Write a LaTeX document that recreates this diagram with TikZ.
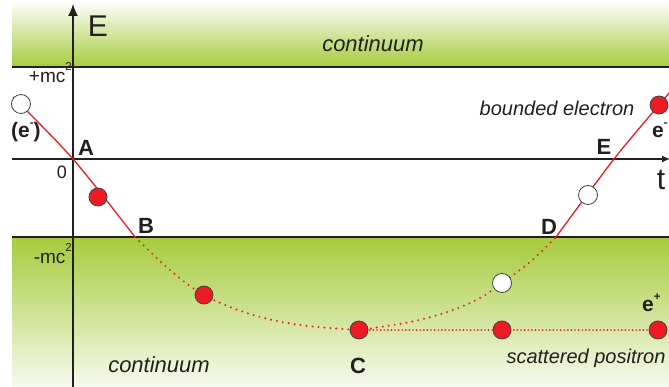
\documentclass[tikz,border=0pt]{standalone}
\usepackage{fontspec}
\setmainfont{Liberation Sans}
\setsansfont{Liberation Sans}
\usetikzlibrary{arrows.meta}
\definecolor{bandgreen}{RGB}{165,204,60}
\definecolor{palegreen}{RGB}{247,250,238}
\definecolor{dotred}{RGB}{237,28,36}
\definecolor{ink}{RGB}{35,31,32}
\newcommand\myexp[2][13pt]{\raisebox{#1}{\fontsize{11.5}{12}\selectfont #2}}
\begin{document}
\begin{tikzpicture}[x=1pt,y=-1pt,
  axisline/.style={ink,line width=1.4pt},
  bandline/.style={ink,line width=1.3pt},
  curve/.style={dotred,line width=1.3pt},
  dots/.style={dotred,line width=2.2pt,line cap=round,dash pattern=on 0pt off 6pt},
  hdots/.style={dotred,line width=1.9pt,line cap=round,dash pattern=on 0pt off 3.6pt},
  fullpt/.style={circle,draw=ink!85,line width=0.8pt,fill=dotred,minimum size=18pt,inner sep=0pt},
  openpt/.style={circle,draw=ink!85,line width=0.8pt,fill=white,minimum size=19pt,inner sep=0pt},
  pointlbl/.style={font=\fontsize{22}{24}\selectfont\bfseries,inner sep=0pt,text=ink},
  bigaxis/.style={font=\fontsize{30}{32}\selectfont,inner sep=0pt,text=ink},
  valuelbl/.style={font=\fontsize{19}{20}\selectfont,inner sep=0pt,text=ink},
  regionlbl/.style={font=\fontsize{22}{24}\selectfont\itshape,inner sep=0pt,text=ink},
  notelbl/.style={font=\fontsize{20}{22}\selectfont\itshape,inner sep=0pt,text=ink},
  partlbl/.style={font=\fontsize{21}{22}\selectfont\bfseries,inner sep=0pt,text=ink}]
\useasboundingbox (0,0) rectangle (669,387);
% bands
\shade[top color=white, bottom color=bandgreen] (12,0) rectangle (669,67);
\shade[top color=bandgreen, bottom color=palegreen] (12,237) rectangle (669,387);
% coordinates
\coordinate (lt1) at (12,67);  \coordinate (rt1) at (669,67);
\coordinate (lt2) at (12,237); \coordinate (rt2) at (669,237);
\coordinate (tl) at (12,159);  \coordinate (tr) at (670,159);
\coordinate (eb) at (73,387);  \coordinate (et) at (73,4);
\coordinate (s0) at (13,97);
\coordinate (p0) at (21,104);
\coordinate (A) at (73,159);
\coordinate (pa) at (98,197);
\coordinate (B) at (135,237);
\coordinate (p1) at (204,295);
\coordinate (C) at (359,330);
\coordinate (p2) at (502,283);
\coordinate (D) at (556,237);
\coordinate (p3) at (588,195);
\coordinate (E) at (614,159);
\coordinate (p4) at (659,105);
\coordinate (s1) at (670,92);
\coordinate (p5) at (502,330);
\coordinate (p6) at (658,330);
% lines
\draw[bandline] (lt1) -- (rt1);
\draw[bandline] (lt2) -- (rt2);
\draw[axisline,-{Latex[length=8pt,width=7pt]}] (tl) -- (tr);
\draw[axisline,-{Latex[length=12pt,width=10pt]}] (eb) -- (et);
% curve
\draw[curve] plot[smooth,tension=0.5] coordinates {(s0) (A) (B)};
\draw[dots] plot[smooth,tension=0.6] coordinates {(B) (170,270) (p1) (250,314) (300,325) (C)};
\draw[dots] plot[smooth,tension=0.6] coordinates {(C) (410,322) (450,311) (480,298) (p2) (530,262) (D)};
\draw[curve] plot[smooth,tension=0.5] coordinates {(D) (E) (p4) (s1)};
\draw[hdots] (C) -- (p6);
% points
\node[openpt] (n0) at (p0) {};
\node[fullpt] (na) at (pa) {};
\node[fullpt] (n1) at (p1) {};
\node[fullpt] (nC) at (C) {};
\node[openpt] (n2) at (p2) {};
\node[openpt] (n3) at (p3) {};
\node[fullpt] (n4) at (p4) {};
\node[fullpt] (n5) at (p5) {};
\node[fullpt] (n6) at (p6) {};
% labels
\node[pointlbl] (lA) at (86,148) {A};
\node[pointlbl] (lB) at (146,226) {B};
\node[pointlbl] (lC) at (358,366) {C};
\node[pointlbl] (lD) at (549,227) {D};
\node[pointlbl] (lE) at (604,147) {E};
\node[bigaxis] (lEn) at (98,26) {E};
\node[bigaxis] (ltt) at (661,180) {t};
\node[valuelbl,anchor=base east] (lpm) at (72,83) {+mc\myexp[12pt]{2}};
\node[valuelbl,anchor=base east] (lmm) at (72,264) {-mc\myexp[12pt]{2}};
\node[font=\fontsize{18}{20}\selectfont,inner sep=0pt,text=ink] (lz) at (62,172) {0};
\node[regionlbl,anchor=base] (ct) at (373,52) {continuum};
\node[regionlbl,anchor=base] (cb) at (159,372) {continuum};
\node[notelbl,anchor=base] (be) at (557,116) {bounded electron};
\node[notelbl,anchor=base] (sp) at (586,363) {scattered positron};
\node[partlbl,anchor=base west] (el) at (11,138) {(e\myexp[11pt]{\bfseries -})};
\node[partlbl,anchor=base west] (er) at (652,138) {e\myexp[11pt]{\bfseries -}};
\node[partlbl,anchor=base west] (ep) at (642,312) {e\myexp[11pt]{\bfseries +}};
\end{tikzpicture}
\end{document}
